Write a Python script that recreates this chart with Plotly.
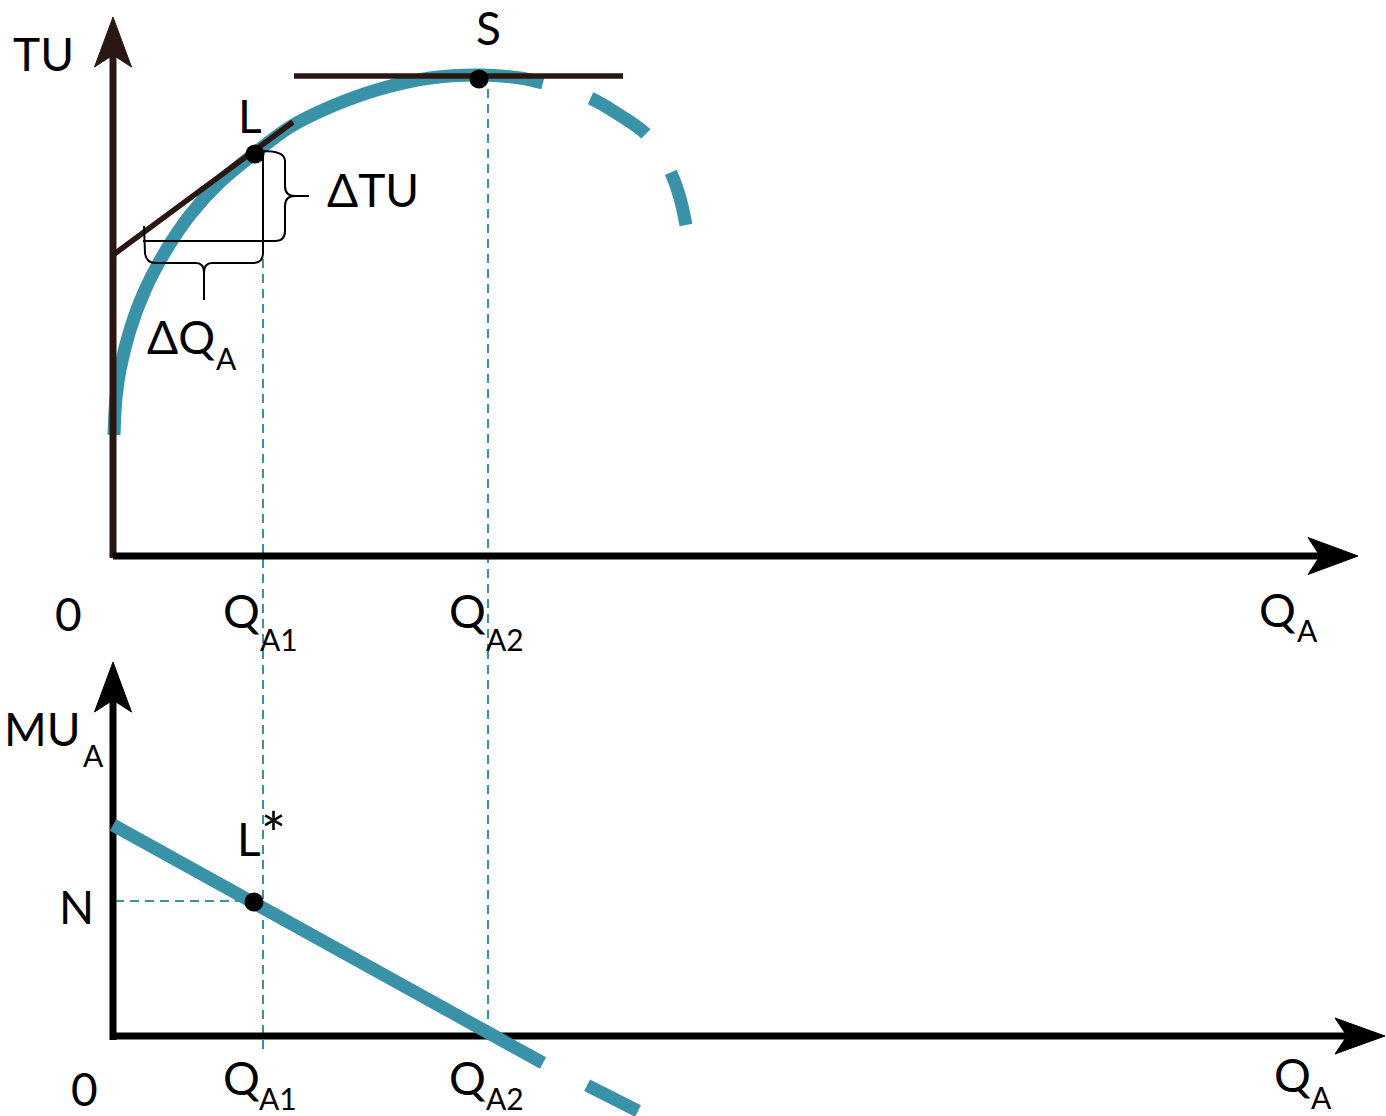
import plotly.graph_objects as go

# ---------------------------------------------------------------- data
# total utility curve (quantity, utility) - solid part, then the dashed
# falling part listed from its far end back towards the peak
tu_q_solid = [0.02, 0.06, 0.14, 0.34, 0.64, 1.04, 1.54, 2.14, 2.84, 3.54, 4.34, 5.34, 6.34, 7.34, 8.14, 8.6]
tu_v_solid = [2.42, 3.16, 3.72, 4.52, 5.32, 6.08, 6.82, 7.48, 8.06, 8.58, 8.98, 9.34, 9.56, 9.62, 9.56, 9.46]
tu_q_dash = [11.46, 11.34, 11.18, 10.94, 10.64, 10.1, 9.54, 8.6]
tu_v_dash = [6.62, 7.16, 7.62, 8.08, 8.46, 8.84, 9.16, 9.46]

# tangent through L and the flat line through the satiation point S
tangent_q = [0.0, 3.6]
tangent_v = [6.02, 8.68]
flat_q = [3.62, 10.2]
flat_v = [9.6, 9.6]

point_L = (2.84, 8.04)
point_S = (7.32, 9.54)
Q_A1 = 3.0
Q_A2 = 7.5

# marginal utility line (solid, then dashed part listed from its far end)
mu_q_solid = [0.0, 8.6]
mu_v_solid = [4.22, -0.54]
mu_q_dash = [10.5, 8.6]
mu_v_dash = [-1.5, -0.54]
point_Lstar = (2.82, 2.68)
N_level = 2.7

# axis extents (arrow tips)
top_q_end, top_tu_end = 24.9, 10.78
bot_q_end, bot_mu_end = 25.44, 7.48

# ---------------------------------------------------------------- layout constants
W, H = 1386, 1116
PX = 50.0                               # screen pixels per data unit
X0_PX, TOP0_PX, BOT0_PX = 113, 556, 1036  # where the origins sit on screen
SPLIT_PX = 650                          # row where the two panels meet

TEAL = "#3a92a8"
BROWN = "#2a1711"
INK = "#000000"
FONT = "Lato"
BIG, SMALL = 46, 30

x_range = [-X0_PX / PX, (W - X0_PX) / PX]
top_range = [(TOP0_PX - SPLIT_PX) / PX, TOP0_PX / PX]
bot_range = [(BOT0_PX - H) / PX, (BOT0_PX - SPLIT_PX) / PX]
split_frac = (H - SPLIT_PX) / H

fig = go.Figure()

TOP = dict(xaxis="x", yaxis="y")
BOT = dict(xaxis="x2", yaxis="y2")


def line(xs, ys, color, width, panel, dash="solid", shape="linear"):
    fig.add_trace(go.Scatter(x=xs, y=ys, mode="lines", hoverinfo="skip",
                             line=dict(color=color, width=width, dash=dash, shape=shape,
                                       smoothing=1.0 if shape == "spline" else None),
                             showlegend=False, **panel))


def arrow_head(tip_x, tip_y, direction, color, panel, length=1.0, half=0.37, notch=0.24):
    if direction == "up":
        xs = [tip_x, tip_x - half, tip_x, tip_x + half, tip_x]
        ys = [tip_y, tip_y - length, tip_y - length + notch, tip_y - length, tip_y]
    else:
        xs = [tip_x, tip_x - length, tip_x - length + notch, tip_x - length, tip_x]
        ys = [tip_y, tip_y + half, tip_y, tip_y - half, tip_y]
    fig.add_trace(go.Scatter(x=xs, y=ys, mode="lines", fill="toself", fillcolor=color,
                             line=dict(color=color, width=1), hoverinfo="skip",
                             showlegend=False, **panel))


GUIDE = dict(color=TEAL, width=2, dash="9px,6px")

# ---------------- top panel: total utility
# dashed guides down from L and S (run through into the lower panel)
line([Q_A1, Q_A1], [point_L[1], top_range[0]], GUIDE["color"], GUIDE["width"], TOP, GUIDE["dash"])
line([Q_A2, Q_A2], [point_S[1] - 0.2, top_range[0]], GUIDE["color"], GUIDE["width"], TOP, GUIDE["dash"])

line(tu_q_solid, tu_v_solid, TEAL, 13, TOP, shape="spline")
line(tu_q_dash, tu_v_dash, TEAL, 13, TOP, dash="55px,46px,66px,90px", shape="spline")

# axes
line([0, 0], [-0.04, top_tu_end - 0.76], BROWN, 7, TOP)
arrow_head(0, top_tu_end, "up", BROWN, TOP)
line([0, top_q_end - 0.76], [0, 0], INK, 7, TOP)
arrow_head(top_q_end, 0, "right", INK, TOP)

line(tangent_q, tangent_v, BROWN, 5.5, TOP)
line(flat_q, flat_v, BROWN, 5.5, TOP)

# ---------------- bottom panel: marginal utility
line([Q_A1, Q_A1], [bot_range[1], -0.34], GUIDE["color"], GUIDE["width"], BOT, GUIDE["dash"])
line([Q_A2, Q_A2], [bot_range[1], 0.12], GUIDE["color"], GUIDE["width"], BOT, GUIDE["dash"])
line([0.04, point_Lstar[0] - 0.2], [N_level, N_level], GUIDE["color"], GUIDE["width"], BOT, GUIDE["dash"])

line([0, 0], [-0.08, bot_mu_end - 0.76], INK, 7, BOT)
arrow_head(0, bot_mu_end, "up", INK, BOT)
line([0, bot_q_end - 0.76], [0, 0], INK, 7, BOT)
arrow_head(bot_q_end, 0, "right", INK, BOT, half=0.36)

line(mu_q_solid, mu_v_solid, TEAL, 13, BOT)
line(mu_q_dash, mu_v_dash, TEAL, 13, BOT, dash="57px,60px")

# points L, S and L*
fig.add_trace(go.Scatter(x=[point_L[0], point_S[0]], y=[point_L[1], point_S[1]], mode="markers",
                         marker=dict(color=INK, size=19), hoverinfo="skip", showlegend=False, **TOP))
fig.add_trace(go.Scatter(x=[point_Lstar[0]], y=[point_Lstar[1]], mode="markers",
                         marker=dict(color=INK, size=19), hoverinfo="skip", showlegend=False, **BOT))

# ---------------- braces marking ΔTU and ΔQ_A
r = 0.2
xb, xt = Q_A1 + 0.44, Q_A1 + 0.92          # brace spine and tip for ΔTU
yt, yb = point_L[1] + 0.06, 6.3
ym = (yt + yb) / 2
dtu_path = (f"M {Q_A1},{yt} Q {xb},{yt} {xb},{yt - r} L {xb},{ym + r} "
            f"Q {xb},{ym} {xb + r},{ym} L {xt},{ym} M {xb + r},{ym} Q {xb},{ym} {xb},{ym - r} "
            f"L {xb},{yb + r} Q {xb},{yb} {xb - r},{yb} L 0.6,{yb} "
            f"M {Q_A1},{yt} L {Q_A1},6.06")

ql, qr, yq, ytip = 0.62, Q_A1, 5.86, 5.12   # ΔQ brace under the triangle
qm = 1.82
dq_path = (f"M {ql},6.6 L {ql + 0.02},{yq + r} Q {ql + 0.04},{yq} {ql + 0.24},{yq} "
           f"L {qm - 0.16},{yq} Q {qm},{yq} {qm},{yq - r} L {qm},{ytip} "
           f"M {qm},{yq - r} Q {qm},{yq} {qm + 0.16},{yq} L {qr - r},{yq} Q {qr},{yq} {qr},{yq + r}")

shapes = [dict(type="path", path=p, xref="x", yref="y", line=dict(color=INK, width=2))
          for p in (dtu_path, dq_path)]

# ---------------- labels
top_labels = [("TU", -1.4, 10.06), ("S", 7.5, 10.58), ("L", 2.74, 8.82), ("ΔTU", 5.2, 7.34),
              ("ΔQ", 1.36, 4.4), ("0", -0.9, -1.14), ("Q", 2.56, -1.08), ("Q", 7.08, -1.08),
              ("Q", 23.29, -1.07)]
top_subs = [("A", 2.26, 3.97), ("A1", 3.31, -1.66), ("A2", 7.84, -1.66), ("A", 23.89, -1.47)]
bot_labels = [("MU", -1.41, 6.15), ("N", -0.74, 2.6),
              ("L<span style='font-size:60px'>*</span>", 2.96, 4.06), ("0", -0.58, -1.04),
              ("Q", 2.56, -0.82), ("Q", 7.08, -0.82), ("Q", 23.59, -0.76)]
bot_subs = [("A", -0.39, 5.63), ("A1", 3.3, -1.24), ("A2", 7.84, -1.24), ("A", 24.16, -1.22)]

annotations = []
for items, size, xr, yr in ((top_labels, BIG, "x", "y"), (top_subs, SMALL, "x", "y"),
                            (bot_labels, BIG, "x2", "y2"), (bot_subs, SMALL, "x2", "y2")):
    for text, x, y in items:
        annotations.append(dict(text=text, x=x, y=y, xref=xr, yref=yr, showarrow=False,
                                xanchor="center", yanchor="middle", borderpad=0,
                                font=dict(family=FONT, size=size, color=INK)))

hidden = dict(visible=False, showgrid=False, zeroline=False, fixedrange=True)
fig.update_layout(
    width=W, height=H, margin=dict(l=0, r=0, t=0, b=0),
    paper_bgcolor="white", plot_bgcolor="white", showlegend=False,
    xaxis=dict(domain=[0, 1], range=x_range, anchor="y", **hidden),
    yaxis=dict(domain=[split_frac, 1], range=top_range, anchor="x", **hidden),
    xaxis2=dict(domain=[0, 1], range=x_range, anchor="y2", **hidden),
    yaxis2=dict(domain=[0, split_frac], range=bot_range, anchor="x2", **hidden),
    shapes=shapes, annotations=annotations,
)

fig.write_html("out.html")
